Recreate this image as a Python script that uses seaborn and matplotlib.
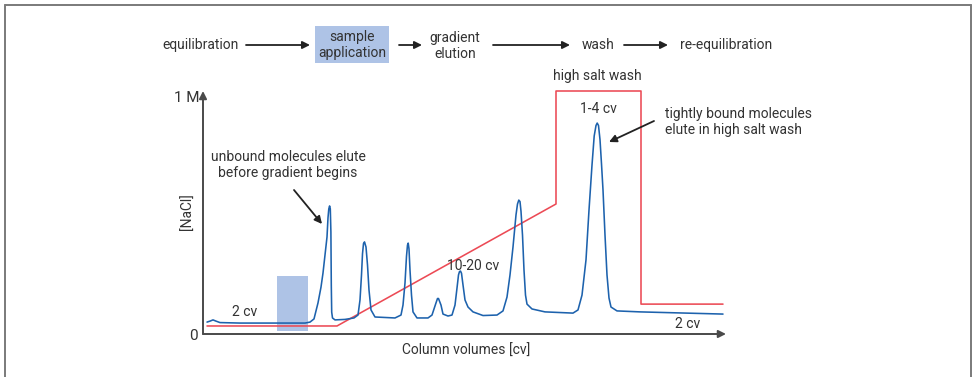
import matplotlib
matplotlib.use("Agg")
import matplotlib.pyplot as plt
import seaborn as sns
from matplotlib.patches import Rectangle, FancyArrowPatch
from matplotlib.lines import Line2D

# ---------------- data ----------------
# chromatogram (UV trace), x in column volumes (arbitrary scale), y in axis units
trace_x = [0.4, 0.7, 1.0, 1.3, 1.7, 3.7, 8.7, 10.2, 10.7, 11.1, 11.5, 11.8, 12.0, 12.2,
           12.4, 12.5, 12.58, 12.66, 12.73, 12.79, 12.83, 12.87, 12.95, 13.2, 14.2, 15.1,
           15.5, 15.7, 15.85, 15.95, 16.05, 16.15, 16.3, 16.45, 16.6, 16.8, 17.2, 19.2,
           19.8, 20.0, 20.2, 20.35, 20.45, 20.52, 20.6, 20.7, 20.85, 21.0, 21.4, 22.5,
           22.9, 23.3, 23.45, 23.55, 23.8, 24.0, 24.5, 24.9, 25.2, 25.4, 25.55, 25.65,
           25.75, 25.85, 26.0, 26.2, 26.5, 27.0, 28.0, 29.4, 30.0, 30.4, 30.7, 31.0,
           31.3, 31.45, 31.58, 31.7, 31.8, 31.95, 32.1, 32.25, 32.4, 32.9, 34.2, 37.0,
           37.5, 37.9, 38.3, 38.6, 38.9, 39.12, 39.3, 39.42, 39.55, 39.7, 39.85, 40.0,
           40.2, 40.4, 40.6, 40.8, 41.4, 43.7, 52.0]
trace_y = [0.049, 0.053, 0.058, 0.053, 0.047, 0.045, 0.045, 0.045, 0.049, 0.062, 0.128,
           0.193, 0.251, 0.325, 0.399, 0.478, 0.515, 0.527, 0.515, 0.420, 0.200, 0.090,
           0.066, 0.058, 0.060, 0.066, 0.078, 0.140, 0.243, 0.330, 0.372, 0.379, 0.358,
           0.284, 0.181, 0.099, 0.070, 0.066, 0.078, 0.119, 0.210, 0.320, 0.366, 0.374,
           0.350, 0.263, 0.160, 0.091, 0.066, 0.066, 0.078, 0.128, 0.146, 0.146, 0.119,
           0.082, 0.074, 0.078, 0.119, 0.189, 0.243, 0.257, 0.259, 0.250, 0.202, 0.140,
           0.111, 0.091, 0.076, 0.078, 0.095, 0.152, 0.243, 0.358, 0.490, 0.535, 0.551,
           0.545, 0.505, 0.407, 0.263, 0.160, 0.123, 0.103, 0.091, 0.086, 0.099, 0.160,
           0.305, 0.510, 0.695, 0.815, 0.858, 0.868, 0.858, 0.800, 0.700, 0.593, 0.407,
           0.243, 0.148, 0.111, 0.095, 0.091, 0.082]

# salt programme, [NaCl] in M
salt_x = [0.4, 13.4, 35.3, 35.3, 43.8, 43.8, 52.0]
salt_y = [0.033, 0.033, 0.535, 1.0, 1.0, 0.123, 0.123]

# sample application window
sample_x = [7.4, 10.5]
sample_y = [0.012, 0.239]

steps = ["equilibration", "sample\napplication", "gradient\nelution", "wash", "re-equilibration"]

# ---------------- figure ----------------
sns.set_theme(style="white")
plt.rcParams['font.family'] = ['Roboto', 'DejaVu Sans']
TXT = "#333333"
FS = 10

W, H = 975, 377
fig = plt.figure(figsize=(W / 100, H / 100), dpi=100)

def fx(px):
    return px / W

def fy(py):
    return 1 - py / H

ax = fig.add_axes([fx(203), fy(334), fx(726) - fx(203), fy(91) - fy(334)])
ax.set_xlim(0, 52.3)
ax.set_ylim(0, 1.0)
for s in ax.spines.values():
    s.set_visible(False)
ax.set_xticks([])
ax.set_yticks([])

# sample application box in plot
ax.add_patch(Rectangle((sample_x[0], sample_y[0]), sample_x[1] - sample_x[0],
                       sample_y[1] - sample_y[0], facecolor="#aec3e6",
                       edgecolor="none", zorder=1))

sns.lineplot(x=salt_x, y=salt_y, sort=False, estimator=None, color="#ec4a55",
             lw=1.15, ax=ax, zorder=2, clip_on=False)
sns.lineplot(x=trace_x, y=trace_y, sort=False, estimator=None, color="#1d62ad",
             lw=1.15, ax=ax, zorder=3, clip_on=False)

# axis arrows
axcol = "#4a4a4a"
ax.annotate("", xy=(1.0, 0), xytext=(0, 0), xycoords="axes fraction",
            textcoords="axes fraction",
            arrowprops=dict(arrowstyle="-|>", color=axcol, lw=1.4,
                            mutation_scale=11, shrinkA=0, shrinkB=0))
ax.annotate("", xy=(0, 1.0), xytext=(0, 0), xycoords="axes fraction",
            textcoords="axes fraction",
            arrowprops=dict(arrowstyle="-|>", color=axcol, lw=1.4,
                            mutation_scale=11, shrinkA=0, shrinkB=0))

# axis labels
fig.text(fx(193), fy(336), "0", ha="center", va="center", fontsize=FS + 1, color=TXT)
fig.text(fx(200), fy(98), "1 M", ha="right", va="center", fontsize=FS + 1, color=TXT)
fig.text(fx(188), fy(212), "[NaCl]", ha="center", va="center", rotation=90,
         fontsize=FS, color=TXT)
fig.text(fx(466), fy(351), "Column volumes [cv]", ha="center", va="center",
         fontsize=FS, color=TXT)

def arrow(p0, p1):
    fig.patches.append(FancyArrowPatch(
        (fx(p0[0]), fy(p0[1])), (fx(p1[0]), fy(p1[1])), transform=fig.transFigure,
        arrowstyle="-|>", mutation_scale=11, color="#222222", lw=1.3,
        shrinkA=0, shrinkB=0))

# annotations inside plot
fig.text(fx(288), fy(165), "unbound molecules elute\nbefore gradient begins",
         ha="center", va="center", fontsize=FS, color=TXT, linespacing=1.2)
arrow((294, 190), (322, 224))
fig.text(fx(597), fy(76), "high salt wash", ha="center", va="center", fontsize=FS, color=TXT)
fig.text(fx(598), fy(109), "1-4 cv", ha="center", va="center", fontsize=FS, color=TXT)
fig.text(fx(665), fy(122), "tightly bound molecules\nelute in high salt wash",
         ha="left", va="center", fontsize=FS, color=TXT, linespacing=1.2)
arrow((654, 121), (609, 142))
fig.text(fx(473), fy(266), "10-20 cv", ha="center", va="center", fontsize=FS, color=TXT)
fig.text(fx(245), fy(312), "2 cv", ha="center", va="center", fontsize=FS, color=TXT)
fig.text(fx(688), fy(324), "2 cv", ha="center", va="center", fontsize=FS, color=TXT)

# top workflow
fig.patches.append(Rectangle((fx(315), fy(63)), fx(389) - fx(315), fy(26) - fy(63),
                             transform=fig.transFigure, facecolor="#aec3e6",
                             edgecolor="none"))
step_x = [201, 352, 455, 598, 726]
step_y = [45, 45, 46, 45, 45]
for lab, px, py in zip(steps, step_x, step_y):
    fig.text(fx(px), fy(py), lab, ha="center", va="center", fontsize=FS,
             color=TXT, linespacing=1.25)
for a, b in [(246, 310), (399, 422), (493, 570), (624, 668)]:
    arrow((a, 45), (b, 45))

# frame around figure (open at bottom)
bc = "#7a7a7a"
fig.add_artist(Line2D([fx(5), fx(971)], [fy(5), fy(5)], transform=fig.transFigure,
                      color=bc, lw=1.4))
fig.add_artist(Line2D([fx(5), fx(5)], [fy(5), 0], transform=fig.transFigure,
                      color=bc, lw=1.4))
fig.add_artist(Line2D([fx(971), fx(971)], [fy(5), 0], transform=fig.transFigure,
                      color=bc, lw=1.4))

fig.savefig("out.png", dpi=100)
